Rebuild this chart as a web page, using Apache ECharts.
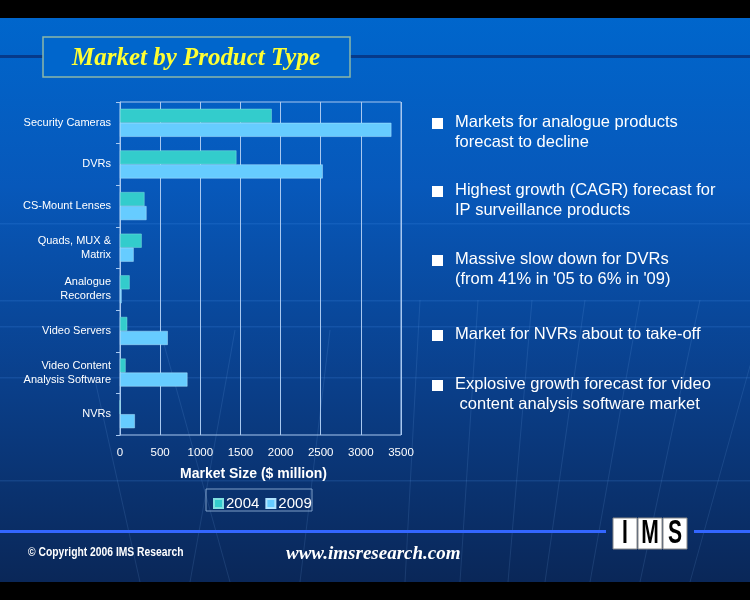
<!DOCTYPE html>
<html>
<head>
<meta charset="utf-8">
<script src="https://cdn.jsdelivr.net/npm/echarts@6/dist/echarts.min.js"></script>
<style>
html,body{margin:0;padding:0;background:#000;}
#c{width:750px;height:600px;}
</style>
</head>
<body>
<div id="c"></div>
<script>
var categories = ['Security Cameras', 'DVRs', 'CS-Mount Lenses', 'Quads, MUX &\nMatrix', 'Analogue\nRecorders', 'Video Servers', 'Video Content\nAnalysis Software', 'NVRs'];
var seriesNames = ['2004', '2009'];
var values2004 = [1890, 1450, 305, 270, 120, 90, 70, 0];
var values2009 = [3380, 2525, 330, 170, 20, 595, 840, 185];
var xTicks = [0, 500, 1000, 1500, 2000, 2500, 3000, 3500];
var bullets = [
  ['Markets for analogue products', 'forecast to decline'],
  ['Highest growth (CAGR) forecast for', 'IP surveillance products'],
  ['Massive slow down for DVRs', "(from 41% in '05 to 6% in '09)"],
  ['Market for NVRs about to take-off'],
  ['Explosive growth forecast for video', ' content analysis software market']
];
var bulletY = [122, 190, 259, 334, 384];

var chart = echarts.init(document.getElementById('c'), null, {renderer: 'canvas'});

var graphics = [
  {type: 'rect', z: -10, shape: {x: 0, y: 0, width: 750, height: 600}, style: {fill: '#000'}},
  {type: 'rect', z: -9, shape: {x: 0, y: 18, width: 750, height: 564},
    style: {fill: new echarts.graphic.LinearGradient(0, 0, 0, 1, [
      {offset: 0, color: '#0066cc'},
      {offset: 0.3, color: '#0758ba'},
      {offset: 0.65, color: '#0a3f8a'},
      {offset: 1, color: '#0a2758'}
    ])}}
];

// faint decorative background lines
var fan = [[420, 300, 405, 582], [478, 300, 460, 582], [532, 300, 508, 582], [585, 300, 545, 582], [640, 300, 590, 582], [700, 300, 640, 582],
  [760, 330, 690, 582], [235, 330, 190, 582], [160, 330, 230, 582], [330, 330, 300, 582], [95, 380, 140, 582]];
fan.forEach(function (f) {
  graphics.push({type: 'line', z: -8, shape: {x1: f[0], y1: f[1], x2: f[2], y2: f[3]},
    style: {stroke: 'rgba(140,190,255,0.13)', lineWidth: 1}});
});
[223, 300, 326, 377, 480].forEach(function (y) {
  graphics.push({type: 'rect', z: -8, shape: {x: 0, y: y, width: 750, height: 1.5},
    style: {fill: 'rgba(90,160,255,0.15)'}});
});

graphics = graphics.concat([
  {type: 'rect', z: -7, shape: {x: 0, y: 55, width: 750, height: 3}, style: {fill: '#063a8a'}},
  {type: 'rect', z: -6, shape: {x: 43, y: 37, width: 307, height: 40},
    style: {fill: '#0066cc', stroke: '#8cb8a8', lineWidth: 1.5}},
  {type: 'text', z: 5, x: 196, y: 58, scaleX: 0.96,
    style: {text: 'Market by Product Type', fill: '#ffff33', font: 'italic bold 26px "Liberation Serif", "DejaVu Serif", serif',
      align: 'center', verticalAlign: 'middle'}},
  {type: 'rect', z: -7, shape: {x: 0, y: 530, width: 606, height: 3}, style: {fill: '#3366ff'}},
  {type: 'rect', z: -7, shape: {x: 694, y: 530, width: 56, height: 3}, style: {fill: '#3366ff'}},
  {type: 'rect', z: 5, shape: {x: 613, y: 518, width: 24, height: 31}, style: {fill: '#fff', stroke: '#888', lineWidth: 1}},
  {type: 'rect', z: 5, shape: {x: 638, y: 518, width: 24, height: 31}, style: {fill: '#fff', stroke: '#888', lineWidth: 1}},
  {type: 'rect', z: 5, shape: {x: 663, y: 518, width: 24, height: 31}, style: {fill: '#fff', stroke: '#888', lineWidth: 1}},
  {type: 'text', z: 6, x: 625, y: 534, scaleX: 0.62, style: {text: 'I', fill: '#000', font: 'bold 34px "Liberation Sans", Arial, sans-serif', align: 'center', verticalAlign: 'middle'}},
  {type: 'text', z: 6, x: 650, y: 534, scaleX: 0.62, style: {text: 'M', fill: '#000', font: 'bold 34px "Liberation Sans", Arial, sans-serif', align: 'center', verticalAlign: 'middle'}},
  {type: 'text', z: 6, x: 675, y: 534, scaleX: 0.62, style: {text: 'S', fill: '#000', font: 'bold 34px "Liberation Sans", Arial, sans-serif', align: 'center', verticalAlign: 'middle'}},
  {type: 'text', z: 5, x: 28, y: 553, scaleX: 0.86, style: {text: '\u00a9 Copyright 2006 IMS Research', fill: '#fff', font: 'bold 12px "Liberation Sans", Arial, sans-serif', verticalAlign: 'middle'}},
  {type: 'text', z: 5, x: 286, y: 554, style: {text: 'www.imsresearch.com', fill: '#fff', font: 'italic bold 19px "Liberation Serif", serif', verticalAlign: 'middle'}},
  {type: 'rect', z: 4, shape: {x: 206, y: 489, width: 106, height: 22}, style: {fill: 'rgba(0,0,0,0)', stroke: '#7f9fc8', lineWidth: 1}}
]);

bullets.forEach(function (lines, i) {
  var y0 = bulletY[i];
  graphics.push({type: 'rect', z: 5, shape: {x: 432, y: y0 - 4, width: 11, height: 11}, style: {fill: '#fff'}});
  lines.forEach(function (t, j) {
    graphics.push({type: 'text', z: 5, x: 455, y: y0 + j * 20,
      style: {text: t, fill: '#fff', font: '16.5px "Liberation Sans", Arial, sans-serif', verticalAlign: 'middle'}});
  });
});

var option = {
  backgroundColor: '#000',
  animation: false,
  graphic: graphics,
  legend: {
    data: seriesNames,
    left: 208, top: 491,
    itemWidth: 9, itemHeight: 9, itemGap: 6,
    icon: 'rect',
    textStyle: {color: '#fff', fontSize: 15, fontFamily: '"Liberation Sans", Arial, sans-serif', padding: [0, 0, 0, -2]}
  },
  grid: {left: 120, right: 349, top: 102, bottom: 165, show: true, borderColor: '#a8c8f0', borderWidth: 1, containLabel: false},
  xAxis: {
    type: 'value', min: 0, max: 3500, interval: 500,
    name: 'Market Size ($ million)', nameLocation: 'middle', nameGap: 32,
    nameTextStyle: {color: '#fff', fontWeight: 'bold', fontSize: 14, fontFamily: '"Liberation Sans", Arial, sans-serif', padding: [0, 14, 0, 0]},
    axisLine: {show: false}, axisTick: {show: false},
    axisLabel: {color: '#fff', fontSize: 11.5, margin: 12, fontFamily: '"Liberation Sans", Arial, sans-serif',
      formatter: function (v) { return xTicks.indexOf(v) >= 0 ? String(v) : ''; }},
    splitLine: {show: true, lineStyle: {color: '#a8c8f0', width: 1}}
  },
  yAxis: {
    type: 'category', data: categories, inverse: true,
    axisLine: {show: true, lineStyle: {color: '#a8c8f0'}},
    axisTick: {show: true, length: 4, lineStyle: {color: '#a8c8f0'}},
    axisLabel: {color: '#fff', fontSize: 11, lineHeight: 14, margin: 9, align: 'right',
      fontFamily: '"Liberation Sans", Arial, sans-serif'}
  },
  series: [
    {name: seriesNames[0], type: 'bar', data: values2004, barWidth: 14, barGap: '0%',
      itemStyle: {color: '#33cccc', borderColor: '#80e0e0', borderWidth: 0.5}},
    {name: seriesNames[1], type: 'bar', data: values2009, barWidth: 14, barGap: '0%',
      itemStyle: {color: '#66ccff', borderColor: '#b0e4ff', borderWidth: 0.5}}
  ]
};
chart.setOption(option);
</script>
</body>
</html>
